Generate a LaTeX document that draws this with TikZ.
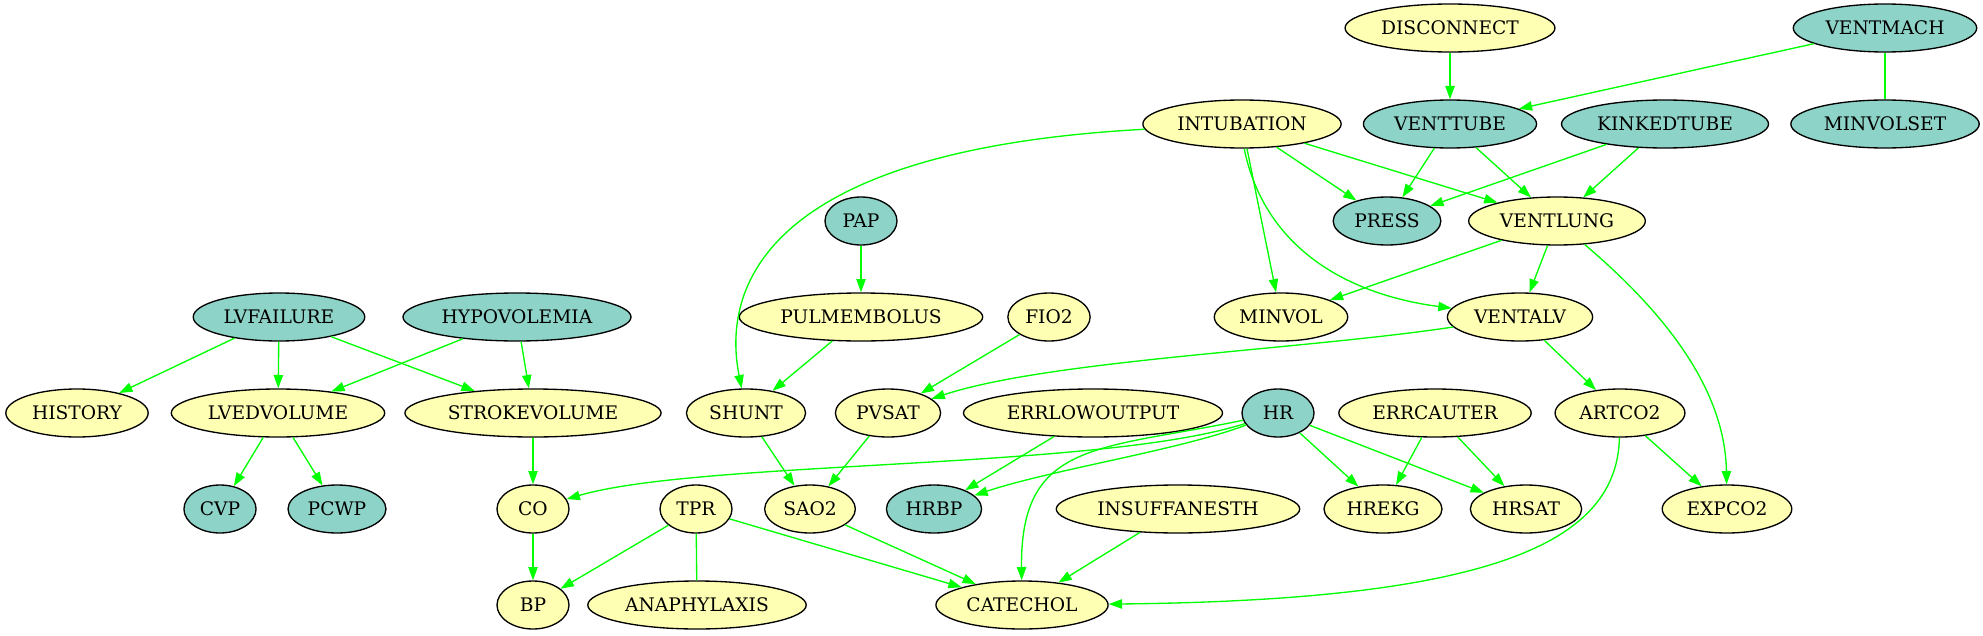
\documentclass[tikz,border=0pt]{standalone}
\usepackage{fontspec}
\setmainfont{DejaVu Serif}
\usetikzlibrary{shapes.geometric}
\usetikzlibrary{arrows.meta}
\definecolor{teal}{HTML}{8DD3C7}
\definecolor{cream}{HTML}{FFFFB3}
\definecolor{edgegreen}{HTML}{00FF00}

\begin{document}
\begin{tikzpicture}[x=0.75pt, y=-0.75pt,
    var/.style={ellipse, draw=black, line width=1pt, inner xsep=4pt, inner ysep=0pt,
        minimum height=36pt, minimum width=54pt, font=\fontsize{14}{17}\selectfont},
    root/.style={var, fill=teal},
    leaf/.style={var, fill=cream},
    arc/.style={draw=edgegreen, line width=1pt, -{Triangle[length=10pt, width=7pt]}},
    link/.style={draw=edgegreen, line width=1pt}]
    \useasboundingbox (0,0) rectangle (1983,635);
    % top rows
    \node [leaf] (DISCONNECT) at (1450,28) {DISCONNECT};
    \node [root] (VENTMACH) at (1885,28) {VENTMACH};
    \node [leaf] (INTUBATION) at (1242,124) {INTUBATION};
    \node [root] (VENTTUBE) at (1450,124) {VENTTUBE};
    \node [root] (KINKEDTUBE) at (1665,124) {KINKEDTUBE};
    \node [root] (MINVOLSET) at (1885,124) {MINVOLSET};
    \node [root] (PAP) at (861,221) {PAP};
    \node [root] (PRESS) at (1387,221) {PRESS};
    \node [leaf] (VENTLUNG) at (1557,221) {VENTLUNG};
    % middle rows
    \node [root] (LVFAILURE) at (279,317) {LVFAILURE};
    \node [root] (HYPOVOLEMIA) at (517,317) {HYPOVOLEMIA};
    \node [leaf] (PULMEMBOLUS) at (861,317) {PULMEMBOLUS};
    \node [leaf] (FIO2) at (1049,317) {FIO2};
    \node [leaf] (MINVOL) at (1281,317) {MINVOL};
    \node [leaf] (VENTALV) at (1520,317) {VENTALV};
    \node [leaf] (HISTORY) at (77,413) {HISTORY};
    \node [leaf] (LVEDVOLUME) at (278,413) {LVEDVOLUME};
    \node [leaf] (STROKEVOLUME) at (533,413) {STROKEVOLUME};
    \node [leaf] (SHUNT) at (746,413) {SHUNT};
    \node [leaf] (PVSAT) at (888,413) {PVSAT};
    \node [leaf] (ERRLOWOUTPUT) at (1093,413) {ERRLOWOUTPUT};
    \node [root] (HR) at (1278,413) {HR};
    \node [leaf] (ERRCAUTER) at (1435,413) {ERRCAUTER};
    \node [leaf] (ARTCO2) at (1620,413) {ARTCO2};
    % bottom rows
    \node [root] (CVP) at (220,509) {CVP};
    \node [root] (PCWP) at (337,509) {PCWP};
    \node [leaf] (CO) at (533,509) {CO};
    \node [leaf] (TPR) at (696,509) {TPR};
    \node [leaf] (SAO2) at (810,509) {SAO2};
    \node [root] (HRBP) at (934,509) {HRBP};
    \node [leaf] (INSUFFANESTH) at (1178,509) {INSUFFANESTH};
    \node [leaf] (HREKG) at (1383,509) {HREKG};
    \node [leaf] (HRSAT) at (1526,509) {HRSAT};
    \node [leaf] (EXPCO2) at (1727,509) {EXPCO2};
    \node [leaf] (BP) at (533,605) {BP};
    \node [leaf] (ANAPHYLAXIS) at (697,605) {ANAPHYLAXIS};
    \node [leaf] (CATECHOL) at (1022,605) {CATECHOL};

    % ventilation
    \draw [arc] (DISCONNECT) -- (VENTTUBE);
    \draw [arc] (VENTMACH) -- (VENTTUBE);
    \draw [link] (VENTMACH) -- (MINVOLSET);
    \draw [arc] (INTUBATION) -- (PRESS);
    \draw [arc] (INTUBATION) -- (VENTLUNG);
    \draw [arc] (INTUBATION) .. controls (760,150) and (722,290) .. (SHUNT.100);
    \draw [arc] (INTUBATION) -- (MINVOL);
    \draw [arc] (INTUBATION.275) .. controls (1265,250) and (1350,295) .. (VENTALV);
    \draw [arc] (VENTTUBE) -- (PRESS);
    \draw [arc] (VENTTUBE) -- (VENTLUNG);
    \draw [arc] (KINKEDTUBE) -- (PRESS);
    \draw [arc] (KINKEDTUBE) -- (VENTLUNG);
    \draw [arc] (VENTLUNG) -- (MINVOL);
    \draw [arc] (VENTLUNG) -- (VENTALV);
    \draw [arc] (VENTLUNG) .. controls (1650,300) and (1725,380) .. (EXPCO2);
    \draw [arc] (VENTALV) .. controls (1300,350) and (1050,360) .. (PVSAT);
    \draw [arc] (VENTALV) -- (ARTCO2);
    % circulation
    \draw [arc] (PAP) -- (PULMEMBOLUS);
    \draw [arc] (PULMEMBOLUS) -- (SHUNT);
    \draw [arc] (FIO2) -- (PVSAT);
    \draw [arc] (LVFAILURE) -- (HISTORY);
    \draw [arc] (LVFAILURE) -- (LVEDVOLUME);
    \draw [arc] (LVFAILURE) -- (STROKEVOLUME);
    \draw [arc] (HYPOVOLEMIA) -- (LVEDVOLUME);
    \draw [arc] (HYPOVOLEMIA) -- (STROKEVOLUME);
    \draw [arc] (LVEDVOLUME) -- (CVP);
    \draw [arc] (LVEDVOLUME) -- (PCWP);
    \draw [arc] (STROKEVOLUME) -- (CO);
    \draw [arc] (SHUNT) -- (SAO2);
    \draw [arc] (PVSAT) -- (SAO2);
    \draw [arc] (ERRLOWOUTPUT) -- (HRBP);
    % heart rate
    \draw [arc] (HR) .. controls (1100,470) and (700,460) .. (CO);
    \draw [arc] (HR) .. controls (1180,450) and (1050,470) .. (HRBP);
    \draw [arc] (HR) .. controls (1100,450) and (1020,440) .. (CATECHOL);
    \draw [arc] (HR) -- (HREKG);
    \draw [arc] (HR) -- (HRSAT);
    \draw [arc] (ERRCAUTER) -- (HREKG);
    \draw [arc] (ERRCAUTER) -- (HRSAT);
    \draw [arc] (ARTCO2) -- (EXPCO2);
    \draw [arc] (ARTCO2) .. controls (1617,540) and (1500,600) .. (CATECHOL);
    % pressure
    \draw [arc] (CO) -- (BP);
    \draw [arc] (TPR) -- (BP);
    \draw [link] (TPR) -- (ANAPHYLAXIS);
    \draw [arc] (TPR) -- (CATECHOL);
    \draw [arc] (SAO2) -- (CATECHOL);
    \draw [arc] (INSUFFANESTH) -- (CATECHOL);
\end{tikzpicture}
\end{document}
